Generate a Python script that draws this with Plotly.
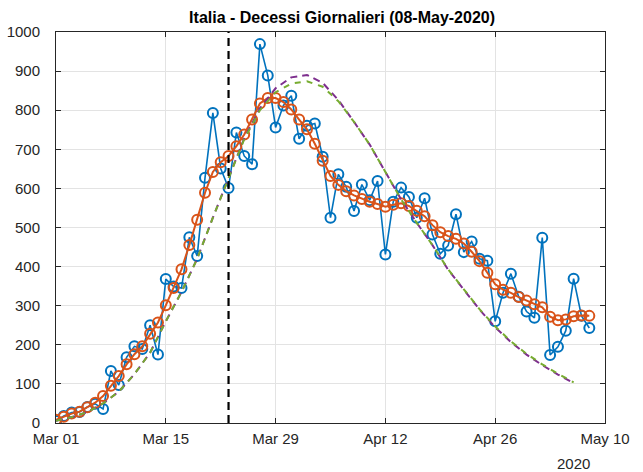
import pandas as pd
import plotly.graph_objects as go

# daily deaths, Italy, Mar 01 .. May 08 2020
days = pd.date_range("2020-03-01", "2020-05-08", freq="D")
deaths = [
    5, 18, 27, 28, 41, 49, 36, 133, 97, 168, 196, 189, 250, 175, 368, 349,
    345, 475, 427, 627, 793, 651, 601, 743, 683, 662, 969, 889, 756, 812, 837,
    727, 760, 766, 681, 525, 636, 604, 542, 610, 570, 619, 431, 566, 602, 578,
    525, 575, 482, 433, 454, 534, 437, 464, 420, 415, 260, 333, 382, 323, 285,
    269, 474, 174, 195, 236, 369, 274, 243,
]
smoothed = [
    8, 16, 24, 29, 40, 52, 69, 95, 120, 150, 176, 196, 228, 257, 301, 345,
    393, 455, 520, 589, 642, 667, 683, 708, 738, 776, 817, 831, 831, 821, 802,
    776, 751, 714, 671, 632, 609, 593, 582, 573, 566, 560, 553, 558, 562, 555,
    543, 529, 506, 488, 478, 471, 459, 438, 414, 384, 355, 341, 333, 322, 313,
    304, 296, 272, 263, 265, 273, 275, 274,
]

# model curves (sampled every 2 days, Mar 01 .. May 06)
model_days = pd.date_range("2020-03-01", "2020-05-06", freq="2D")
model_a = [
    6, 15, 28, 50, 80, 125, 180, 260, 335, 420, 525, 625, 728, 805, 856, 884,
    890, 870, 826, 770, 712, 642, 572, 512, 455, 392, 340, 290, 245, 207, 175,
    148, 124, 102,
]
model_b = [
    6, 15, 28, 50, 80, 125, 180, 260, 335, 420, 525, 625, 726, 800, 846, 868,
    874, 860, 823, 770, 712, 642, 572, 512, 455, 393, 341, 291, 247, 209, 177,
    150, 126, 104,
]

tick_dates = ["2020-03-01", "2020-03-15", "2020-03-29", "2020-04-12", "2020-04-26", "2020-05-10"]
tick_text = ["Mar 01", "Mar 15", "Mar 29", "Apr 12", "Apr 26", "May 10"]
y_ticks = list(range(0, 1001, 100))
lockdown_day = "2020-03-23"

fig = go.Figure()

fig.add_trace(go.Scatter(
    x=days, y=deaths, mode="lines+markers",
    line=dict(color="#0072BD", width=1.6),
    marker=dict(symbol="circle-open", size=10, color="#0072BD", line=dict(width=2)),
))
fig.add_trace(go.Scatter(
    x=days, y=smoothed, mode="lines+markers",
    line=dict(color="#D95319", width=2),
    marker=dict(symbol="circle-open", size=10, color="#D95319", line=dict(width=2)),
))
fig.add_trace(go.Scatter(
    x=model_days, y=model_a, mode="lines",
    line=dict(color="#7E2F8E", width=2, dash="7px,5px"),
))
fig.add_trace(go.Scatter(
    x=model_days, y=model_b, mode="lines",
    line=dict(color="#77AC30", width=2, dash="6px,6px"),
))

# vertical dashed marker
fig.add_shape(type="line", xref="x", yref="paper", x0=lockdown_day, x1=lockdown_day,
              y0=0, y1=1, line=dict(color="black", width=2.2, dash="8px,5px"))

fig.add_annotation(text="2020", xref="x", yref="paper", x="2020-05-10", y=0,
                   xanchor="right", yanchor="top", xshift=-13, yshift=-30,
                   showarrow=False, font=dict(size=15, color="#262626"))

fig.update_layout(
    width=643, height=472,
    margin=dict(l=56, r=38, t=32, b=49, autoexpand=False),
    plot_bgcolor="white", paper_bgcolor="white",
    showlegend=False,
    font=dict(family="Liberation Sans, Arial, sans-serif", size=15, color="#262626"),
    title=dict(text="<b>Italia - Decessi Giornalieri (08-May-2020)</b>",
               x=0.532, xanchor="center", y=0.964, yanchor="middle",
               font=dict(size=16, color="black")),
    xaxis=dict(
        range=["2020-03-01", "2020-05-10"],
        tickvals=tick_dates, ticktext=tick_text,
        showgrid=True, gridcolor="#e3e3e3", gridwidth=1,
        showline=True, linecolor="#262626", linewidth=1, mirror="ticks",
        ticks="inside", ticklen=5, tickcolor="#262626", zeroline=False,
        ticklabelstandoff=2, automargin=False,
    ),
    yaxis=dict(
        range=[0, 1000], tickvals=y_ticks,
        showgrid=True, gridcolor="#e3e3e3", gridwidth=1,
        showline=True, linecolor="#262626", linewidth=1, mirror="ticks",
        ticks="inside", ticklen=5, tickcolor="#262626", zeroline=False,
        ticklabelstandoff=12, automargin=False,
    ),
)

fig.write_html("out.html", config={"displayModeBar": False},
               post_script="document.body.style.margin='0px';")
